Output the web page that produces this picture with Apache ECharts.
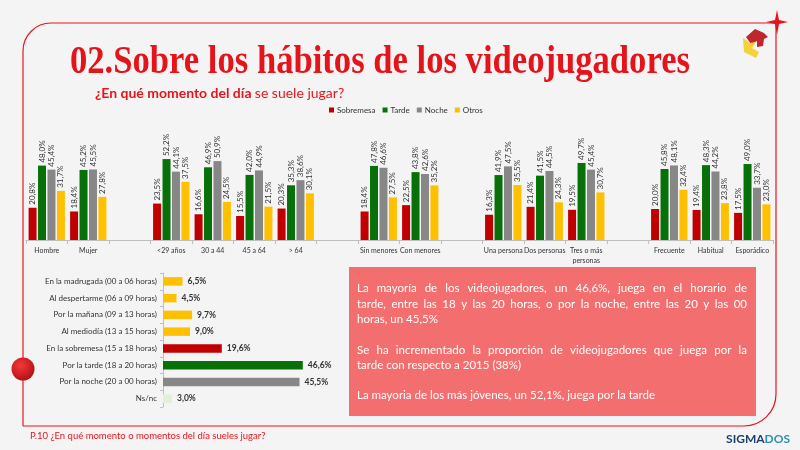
<!DOCTYPE html>
<html>
<head>
<meta charset="utf-8">
<script src="https://cdn.jsdelivr.net/npm/echarts@6/dist/echarts.min.js"></script>
<style>
html,body{margin:0;padding:0;background:#f4f4f4;}
#chart{width:800px;height:450px;}
</style>
</head>
<body>
<div id="chart"></div>
<script>
// ---------- DATA ----------
const topCategories = ['Hombre','Mujer','','<29 años','30 a 44','45 a 64','> 64','','Sin menores','Con menores','','Una persona','Dos personas','Tres o más\npersonas','','Frecuente','Habitual','Esporádico'];
const seriesNames = ['Sobremesa','Tarde','Noche','Otros'];
const sobremesa = [20.8,18.4,null,23.5,16.6,15.5,20.3,null,18.4,22.5,null,16.3,21.4,19.5,null,20.0,19.4,17.5];
const tarde     = [48.0,45.2,null,52.2,46.9,42.0,35.3,null,47.8,43.8,null,41.9,41.5,49.7,null,45.8,48.3,49.0];
const noche     = [45.4,45.5,null,44.1,50.9,44.9,38.6,null,46.6,42.6,null,47.5,44.5,45.4,null,48.1,44.2,33.7];
const otros     = [31.7,27.8,null,37.5,24.5,21.5,30.1,null,27.5,35.2,null,35.5,24.3,30.7,null,32.4,23.8,23.0];

const timeCategories = ['En la madrugada (00 a 06 horas)','Al despertarme (06 a 09 horas)','Por la mañana (09 a 13 horas)','Al mediodía (13 a 15 horas)','En la sobremesa (15 a 18 horas)','Por la tarde (18 a 20 horas)','Por la noche (20 a 00 horas)','Ns/nc'];
const timeValues = [6.5,4.5,9.7,9.0,19.6,46.6,45.5,3.0];

const titleText = '02.Sobre los hábitos de los videojugadores';
const subtitleBold = '¿En qué momento del día';
const subtitleRest = 'se suele jugar?';
const footerText = 'P.10 ¿En qué momento o momentos del día sueles jugar?';
const paragraphLines = [
  ['La mayoría de los videojugadores, un 46,6%, juega en el horario de', true],
  ['tarde, entre las 18 y las 20 horas, o por la noche, entre las 20 y las 00', true],
  ['horas, un 45,5%', false],
  ['Se ha incrementado la proporción de videojugadores que juega por la', true],
  ['tarde con respecto a 2015 (38%)', false],
  ['La mayoria de los más jóvenes, un 52,1%, juega por la tarde', false]
];

// ---------- STYLE ----------
const RED = '#c00000', GREEN = '#087008', GRAY = '#878787', YELLOW = '#ffc000', PALE = '#e2efda';
const seriesColors = [RED, GREEN, GRAY, YELLOW];
const timeColors = [YELLOW, YELLOW, YELLOW, YELLOW, RED, GREEN, GRAY, PALE];
const FRAME = '#e8141c';
const SANS = 'Lato';
const fmt = v => Number(v).toFixed(1).replace('.', ',') + '%';

const chart = echarts.init(document.getElementById('chart'));

const measureCtx = document.createElement('canvas').getContext('2d');
function textWidth(t, font) { measureCtx.font = font; return measureCtx.measureText(t).width; }

const titleFont = 'bold 40px "Liberation Serif"';
const titleScale = 620 / textWidth(titleText, titleFont);

const paraFont = '11.5px ' + SANS;
const paraLeft = 357, paraRight = 747;
const paraY = [288, 304, 319, 350, 365, 395];
const paraEls = [];
paragraphLines.forEach(([line, justify], i) => {
  if (!justify) {
    paraEls.push({ type: 'text', x: paraLeft, y: paraY[i], style: { text: line, font: paraFont, fill: '#fff', verticalAlign: 'middle' } });
    return;
  }
  const words = line.split(' ');
  const widths = words.map(w => textWidth(w, paraFont));
  const total = widths.reduce((a, b) => a + b, 0);
  const gap = (paraRight - paraLeft - total) / (words.length - 1);
  let x = paraLeft;
  words.forEach((w, k) => {
    paraEls.push({ type: 'text', x: x, y: paraY[i], style: { text: w, font: paraFont, fill: '#fff', verticalAlign: 'middle' } });
    x += widths[k] + gap;
  });
});

const barSeries = [sobremesa, tarde, noche, otros].map((arr, i) => ({
  name: seriesNames[i],
  type: 'bar',
  xAxisIndex: 0, yAxisIndex: 0,
  barWidth: 8,
  barGap: '18%',
  itemStyle: { color: seriesColors[i] },
  data: arr.map(v => v == null ? '-' : v),
  label: {
    show: true, position: 'top', rotate: 90, align: 'left', verticalAlign: 'middle',
    distance: 3, fontSize: 8, fontFamily: SANS, color: '#333',
    formatter: p => fmt(p.value)
  },
  silent: true
}));

const option = {
  backgroundColor: '#f4f4f4',
  animation: false,
  legend: {
    data: seriesNames, left: 324, top: 101, itemWidth: 5, itemHeight: 5, itemGap: 7, icon: 'rect',
    textStyle: { fontSize: 8, fontFamily: SANS, color: '#333', padding: [0, 0, 0, -2] }
  },
  grid: [
    { left: 26, right: 27, top: 147, bottom: 210 },
    { left: 163, top: 273, width: 150, height: 134 }
  ],
  xAxis: [
    { type: 'category', gridIndex: 0, data: topCategories,
      axisLine: { lineStyle: { color: '#bfbfbf' } },
      axisTick: { show: true, interval: 0, length: 4, lineStyle: { color: '#bfbfbf' } },
      axisLabel: { interval: 0, fontSize: 7, fontFamily: SANS, color: '#333', margin: 6, lineHeight: 10 } },
    { type: 'value', gridIndex: 1, min: 0, max: 50, show: false }
  ],
  yAxis: [
    { type: 'value', gridIndex: 0, min: 0, max: 60, show: false },
    { type: 'category', gridIndex: 1, data: timeCategories, inverse: true,
      axisLine: { lineStyle: { color: '#bfbfbf' } },
      axisTick: { show: true, length: 3, lineStyle: { color: '#bfbfbf' } },
      axisLabel: { fontSize: 8, fontFamily: SANS, color: '#333', margin: 6 } }
  ],
  series: barSeries.concat([{
    type: 'bar', xAxisIndex: 1, yAxisIndex: 1, barWidth: 8.5,
    data: timeValues.map((v, i) => ({ value: v, itemStyle: { color: timeColors[i] } })),
    label: { show: true, position: 'right', distance: 5, fontSize: 8.5, fontWeight: 'bold', fontFamily: SANS, color: '#333', formatter: p => fmt(p.value) },
    silent: true
  }]),
  graphic: [
    { type: 'line', shape: { x1: 51, y1: 23, x2: 776, y2: 23 }, style: { stroke: FRAME, lineWidth: 1.2 } },
    { type: 'arc', shape: { cx: 51, cy: 51, r: 28, startAngle: Math.PI, endAngle: Math.PI * 1.5 }, style: { stroke: FRAME, lineWidth: 1.2, fill: null } },
    { type: 'line', shape: { x1: 23, y1: 51, x2: 23, y2: 426 }, style: { stroke: FRAME, lineWidth: 1.2 } },
    { type: 'line', shape: { x1: 23, y1: 426, x2: 744, y2: 426 }, style: { stroke: FRAME, lineWidth: 1.2 } },
    { type: 'arc', shape: { cx: 744, cy: 394, r: 32, startAngle: 0, endAngle: Math.PI / 2 }, style: { stroke: FRAME, lineWidth: 1.2, fill: null } },
    { type: 'line', shape: { x1: 776, y1: 23, x2: 776, y2: 394 }, style: { stroke: FRAME, lineWidth: 1.2 } },
    { type: 'polygon', shape: { points: [[777, 10], [779, 20], [788, 22], [779, 24], [777, 35], [775, 24], [766, 22], [775, 20]] }, style: { fill: FRAME } },
    { type: 'polygon', shape: { points: [[746, 37], [755, 29], [764, 33], [768, 37], [764, 39], [763, 46], [757, 47], [757, 41], [751, 44]] }, style: { fill: '#c0272d' } },
    { type: 'polygon', shape: { points: [[743, 38], [750, 43], [756, 42], [752, 48], [759, 52], [756, 58], [744, 52]] }, style: { fill: '#f3d23c' } },
    { type: 'circle', shape: { cx: 23, cy: 369, r: 11.5 }, style: { fill: new echarts.graphic.RadialGradient(0.4, 0.35, 0.7, [{ offset: 0, color: '#f23a3a' }, { offset: 1, color: '#b30d14' }]) } },
    { type: 'text', x: 70, y: 63, scaleX: titleScale, style: { text: titleText, font: titleFont, fill: '#e5141b', verticalAlign: 'middle' } },
    { type: 'text', x: 95, y: 93, style: {
        text: '{b|' + subtitleBold + '} {r|' + subtitleRest + '}', verticalAlign: 'middle',
        rich: { b: { fontFamily: SANS, fontSize: 14, fontWeight: 'bold', fill: '#e8141c' },
                r: { fontFamily: SANS, fontSize: 14, fill: '#e8141c' } } } },
    { type: 'rect', shape: { x: 349, y: 267, width: 407, height: 149 }, style: { fill: '#f36e6e' } }
  ].concat(paraEls).concat([
    { type: 'text', x: 30, y: 436, style: { text: footerText, font: '9.5px ' + SANS, fill: '#e8141c', verticalAlign: 'middle' } },
    { type: 'text', x: 790, y: 439, style: {
        text: '{a|SIGMA}{b|DOS}', align: 'right', verticalAlign: 'middle',
        rich: { a: { fontFamily: SANS, fontSize: 12, fontWeight: 'bold', fill: '#1b3f73' },
                b: { fontFamily: SANS, fontSize: 12, fontWeight: 'bold', fill: '#2a8fb5' } } } }
  ])
};
chart.setOption(option);
</script>
</body>
</html>
